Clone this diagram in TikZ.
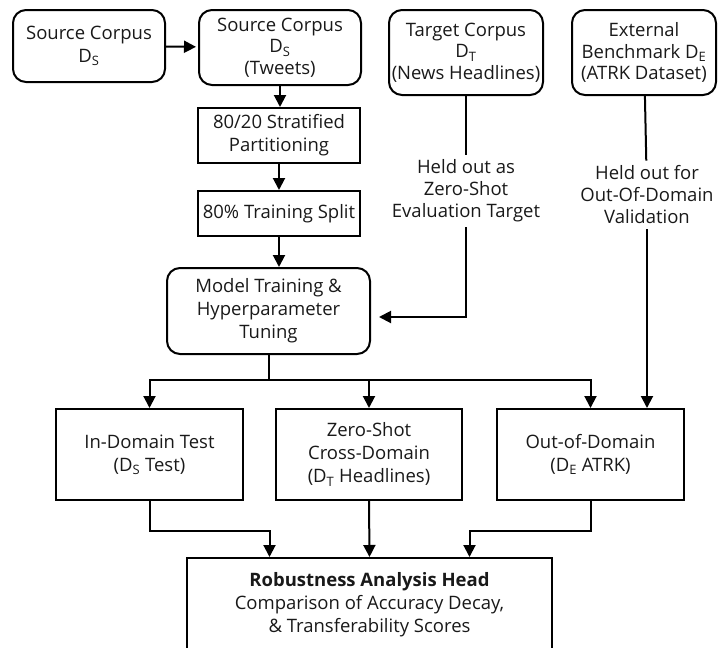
\documentclass[tikz,border=0pt]{standalone}
\usepackage{fontspec}
\setmainfont{Open Sans}
\usetikzlibrary{arrows.meta,calc}
\newcommand{\mysub}[1]{\textsubscript{#1}}
\begin{document}
\begin{tikzpicture}[x=1pt,y=-1pt,
  box/.style={draw=black, line width=2pt, align=center, inner sep=1pt,
    text=black!90, font=\fontsize{18.5}{23}\selectfont},
  rbox/.style={box, rounded corners=13pt},
  lab/.style={align=center, inner sep=5pt, text=black!90,
    font=\fontsize{18.5}{22}\selectfont},
  ln/.style={line width=2pt, draw=black},
  arr/.style={ln, -{Triangle[length=12pt,width=12pt]}}]
\useasboundingbox (0,0) rectangle (718,648);
\clip (0,0) rectangle (718,648);
% top row
\node[rbox, minimum width=152pt, minimum height=72pt] (src1) at (89,46)
  {Source Corpus\\D\mysub{S}};
\node[rbox, minimum width=162pt, minimum height=75pt, font=\fontsize{18.5}{21.5}\selectfont] (src2) at (280,47.5)
  {Source Corpus\\D\mysub{S}\\(Tweets)};
\node[rbox, minimum width=154pt, minimum height=85pt, font=\fontsize{18.5}{21.5}\selectfont] (tgt) at (466,52.5)
  {Target Corpus\\D\mysub{T}\\(News Headlines)};
\node[rbox, minimum width=144pt, minimum height=85pt, font=\fontsize{18.5}{21.5}\selectfont] (ext) at (644,52.5)
  {External\\Benchmark D\mysub{E}\\(ATRK Dataset)};
% pipeline
\node[box, minimum width=162pt, minimum height=55pt] (part) at (279,135.5)
  {80/20 Stratified\\Partitioning};
\node[box, minimum width=162pt, minimum height=45pt] (split) at (279,213.5)
  {80\% Training Split};
\node[rbox, minimum width=203pt, minimum height=86pt] (model) at (268.5,311)
  {Model Training \&\\Hyperparameter\\Tuning};
% held-out labels
\node[lab] (held1) at (466,191) {Held out as\\Zero-Shot\\Evaluation Target};
\node[lab] (held2) at (647,195) {Held out for\\Out-Of-Domain\\Validation};
% evaluation boxes
\node[box, minimum width=187pt, minimum height=91pt] (ind) at (149.5,454.5)
  {In-Domain Test\\(D\mysub{S} Test)};
\node[box, minimum width=186pt, minimum height=91pt] (zs) at (369,454.5)
  {Zero-Shot\\Cross-Domain\\(D\mysub{T} Headlines)};
\node[box, minimum width=187pt, minimum height=91pt] (ood) at (590.5,454.5)
  {Out-of-Domain\\(D\mysub{E} ATRK)};
% robustness head (runs past the bottom edge)
\node[box, minimum width=365pt, minimum height=130pt, anchor=north] (rob) at (369.5,557)
  {};
\node[lab, anchor=north, inner sep=0pt, font=\fontsize{18.5}{23}\selectfont] (robtxt) at (369.5,572)
  {\textbf{Robustness Analysis Head}\\Comparison of Accuracy Decay,\\\& Transferability Scores};
% connectors
\draw[arr, shorten >=2pt] (src1) -- (src2);
\draw[arr] (src2.south) -- (src2.south |- part.north);
\draw[arr] (part) -- (split);
\draw[arr] (split.south) -- (split.south |- model.north);
\draw[ln] (tgt) -- (held1);
\draw[arr, shorten >=8pt] (held1) |- ([yshift=-6pt]model.east);
\draw[ln] (ext) -- (held2);
\draw[arr] (held2) -- (held2 |- ood.north);
\coordinate (br) at ($(model.south)+(0,25)$);
\draw[ln] (model.south) -- (br);
\draw[arr] (br) -| (ind.north);
\draw[arr] (br) -| (zs.north);
\draw[arr] (br) -| (ood.north);
\coordinate (rl) at ($(rob.north)+(-100,0)$);
\coordinate (rr) at ($(rob.north)+(100,0)$);
\draw[arr] (ind.south) -- ++(0,30) -| (rl);
\draw[arr] (zs.south) -- (rob.north);
\draw[arr] (ood.south) -- ++(0,30) -| (rr);
\end{tikzpicture}
\end{document}
